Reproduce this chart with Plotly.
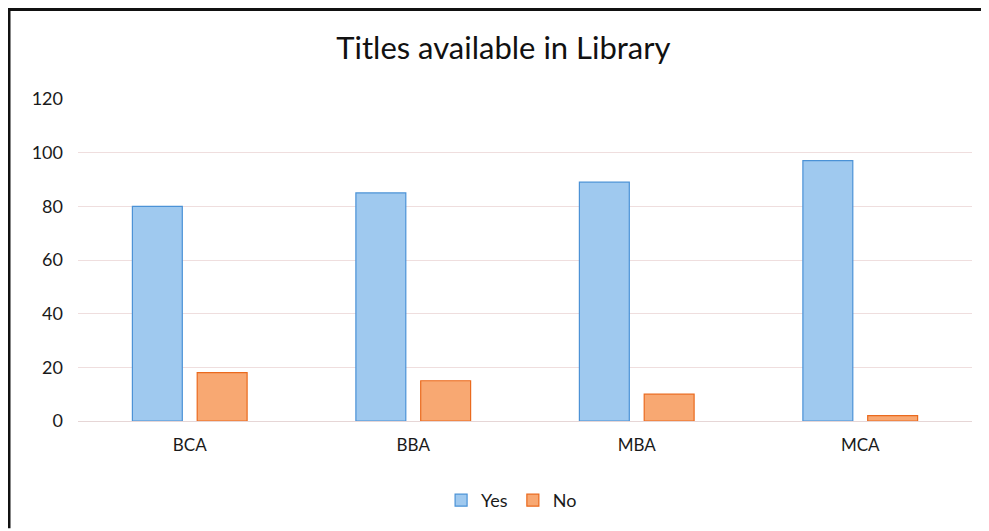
import plotly.graph_objs as go

# data
courses = ["BCA", "BBA", "MBA", "MCA"]
yes_titles = [80, 85, 89, 97]
no_titles = [18, 15, 10, 2]
y_ticks = [0, 20, 40, 60, 80, 100, 120]

# the page body adds an 8px margin, so work in figure pixels (screen - 8)
OFF = 8
W, H = 989 - OFF, 531 - OFF
L, T = 78 - OFF, 99 - OFF
R = W - (972 - OFF)
B = H - (423 - OFF)


def px_x(px):
    return (px - OFF - L) / (W - L - R)


def px_y(py):
    return (H - B - (py - OFF)) / (H - T - B)


fig = go.Figure()
fig.add_trace(go.Bar(
    name="Yes", x=courses, y=yes_titles,
    marker=dict(color="#9fc9ef", line=dict(color="#4b92d6", width=1.2))
))
fig.add_trace(go.Bar(
    name="No", x=courses, y=no_titles,
    marker=dict(color="#f8a872", line=dict(color="#ea6a1e", width=1.2))
))

fig.update_layout(
    width=W, height=H,
    margin=dict(l=L, r=R, t=T, b=B),
    paper_bgcolor="white", plot_bgcolor="white",
    font=dict(family="Lato, Noto Sans, sans-serif", color="#1a1a1a"),
    title=dict(text="Titles available in Library", x=0.505, xanchor="center",
               y=1 - (48 - OFF) / H, yanchor="middle",
               font=dict(size=31, color="#111111")),
    barmode="group", bargap=0.42, bargroupgap=0.23,
    showlegend=True,
    legend=dict(orientation="h", x=0.485, xanchor="center",
                y=px_y(503), yanchor="middle",
                font=dict(size=18), itemwidth=30),
    xaxis=dict(showgrid=False, showline=False, ticks="",
               tickfont=dict(size=17), ticklabelstandoff=12),
    yaxis=dict(range=[0, 120], tickvals=y_ticks, showgrid=True,
               gridcolor="#efdede", gridwidth=1, zeroline=True,
               zerolinecolor="#e6d6d6", zerolinewidth=1,
               showline=False, ticks="", tickfont=dict(size=18),
               ticklabelstandoff=14),
    shapes=[
        dict(type="line", xref="paper", yref="paper",
             x0=px_x(8), x1=px_x(989), y0=px_y(9), y1=px_y(9),
             line=dict(color="#111111", width=3)),
        dict(type="line", xref="paper", yref="paper",
             x0=px_x(9), x1=px_x(9), y0=px_y(8), y1=px_y(531),
             line=dict(color="#111111", width=3)),
    ],
)

fig.write_html("out.html")
